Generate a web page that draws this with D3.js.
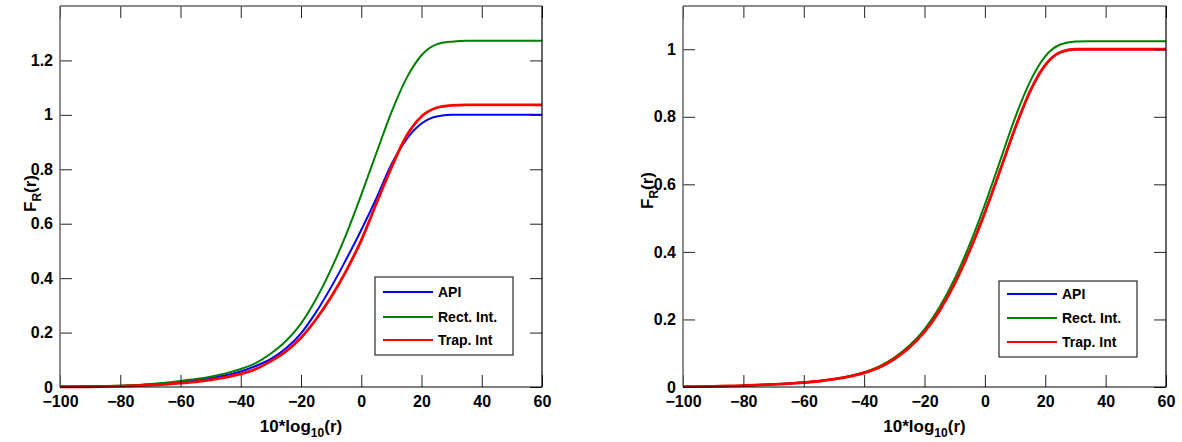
<!DOCTYPE html>
<html>
<head>
<meta charset="utf-8">
<script src="https://cdn.jsdelivr.net/npm/d3@7"></script>
<style>
  html, body { margin: 0; padding: 0; background: #fff; }
  svg { display: block; font-family: "Liberation Sans", Arial, sans-serif; }
  .tick text { font-size: 16px; font-weight: bold; fill: #000; }
</style>
</head>
<body>
<svg id="chart" width="1182" height="442"></svg>
<script>
// Sample grid of 10*log10(r), in dB
const xVals = [-100, -95, -90, -85, -80, -75, -70, -65, -60, -55, -50, -45, -40, -35,
               -30, -25, -20, -15, -10, -5, 0, 5, 10, 15, 20, 25, 30,
               35, 40, 45, 50, 55, 60];

// Left panel: estimated CDF F_R(r)
const leftApi  = [0.001, 0.001, 0.002, 0.003, 0.004, 0.006, 0.009, 0.013, 0.018, 0.024, 0.032, 0.043, 0.057, 0.077,
                  0.103, 0.142, 0.197, 0.275, 0.367, 0.469, 0.577, 0.693, 0.818, 0.910, 0.968, 0.994, 1.000,
                  1.000, 1.000, 1.000, 1.000, 1.000, 1.000];
const leftRect = [0.001, 0.001, 0.002, 0.003, 0.005, 0.007, 0.011, 0.016, 0.022, 0.029, 0.038, 0.050, 0.066, 0.088,
                  0.123, 0.169, 0.233, 0.323, 0.433, 0.561, 0.706, 0.859, 1.009, 1.134, 1.219, 1.259, 1.269,
                  1.272, 1.272, 1.272, 1.272, 1.272, 1.272];
const leftTrap = [0.001, 0.001, 0.001, 0.002, 0.003, 0.005, 0.007, 0.010, 0.014, 0.019, 0.026, 0.035, 0.048, 0.066,
                  0.095, 0.131, 0.181, 0.249, 0.331, 0.427, 0.539, 0.674, 0.806, 0.922, 0.994, 1.026, 1.035,
                  1.037, 1.037, 1.037, 1.037, 1.037, 1.037];

// Right panel: estimated CDF F_R(r)
const rightApi  = [0.001, 0.001, 0.002, 0.003, 0.004, 0.006, 0.008, 0.010, 0.013, 0.017, 0.023, 0.031, 0.042, 0.058,
                   0.083, 0.117, 0.164, 0.228, 0.308, 0.406, 0.518, 0.641, 0.766, 0.876, 0.953, 0.991, 1.000,
                   1.000, 1.000, 1.000, 1.000, 1.000, 1.000];
const rightRect = [0.001, 0.001, 0.002, 0.003, 0.004, 0.006, 0.008, 0.011, 0.014, 0.018, 0.024, 0.032, 0.044, 0.061,
                   0.087, 0.123, 0.171, 0.237, 0.321, 0.423, 0.540, 0.668, 0.797, 0.905, 0.979, 1.014, 1.023,
                   1.024, 1.024, 1.024, 1.024, 1.024, 1.024];
const rightTrap = [0.001, 0.001, 0.002, 0.003, 0.004, 0.006, 0.008, 0.010, 0.013, 0.017, 0.023, 0.031, 0.042, 0.058,
                   0.083, 0.117, 0.163, 0.226, 0.306, 0.404, 0.516, 0.640, 0.766, 0.876, 0.953, 0.991, 1.000,
                   1.000, 1.000, 1.000, 1.000, 1.000, 1.000];

const seriesNames  = ["API", "Rect. Int.", "Trap. Int"];
const seriesColors = ["#0000ff", "#008000", "#ff0000"];
const seriesWidths = [2, 2, 2.8];

const xTicks = [-100, -80, -60, -40, -20, 0, 20, 40, 60];
const leftYTicks  = [0, 0.2, 0.4, 0.6, 0.8, 1, 1.2];
const rightYTicks = [0, 0.2, 0.4, 0.6, 0.8, 1];

const svg = d3.select("#chart");

const panels = [
  { left: 60,  top: 6, width: 482, height: 381, yMax: 1.4,   yTicks: leftYTicks,
    series: [leftApi, leftRect, leftTrap], yLabelX: -24, yLabelShift: -3,
    legend: { x: 315, y: 271, w: 138, h: 78, rows: [15, 40, 63] } },
  { left: 683, top: 6, width: 483, height: 381, yMax: 1.128, yTicks: rightYTicks,
    series: [rightApi, rightRect, rightTrap], yLabelX: -30, yLabelShift: -6,
    legend: { x: 316, y: 275, w: 138, h: 76, rows: [13, 37, 61] } }
];

const fmt = d => d === 0 ? "0" : String(+d.toFixed(1));

panels.forEach(p => {
  const g = svg.append("g").attr("transform", `translate(${p.left},${p.top})`);
  const x = d3.scaleLinear().domain([-100, 60]).range([0, p.width]);
  const y = d3.scaleLinear().domain([0, p.yMax]).range([p.height, 0]);

  // Curves
  const line = d3.line()
    .x((d, i) => x(xVals[i]))
    .y(d => y(d))
    .curve(d3.curveMonotoneX);
  p.series.forEach((vals, i) => {
    g.append("path")
      .datum(vals)
      .attr("fill", "none")
      .attr("stroke", seriesColors[i])
      .attr("stroke-width", seriesWidths[i])
      .attr("d", line);
  });

  // Axes with inward ticks on all four sides
  const styleAxis = sel => {
    sel.select(".domain").remove();
    sel.selectAll(".tick line").attr("stroke", "#222");
  };
  g.append("g").attr("transform", `translate(0,${p.height})`)
    .call(d3.axisBottom(x).tickValues(xTicks).tickSize(-12).tickPadding(9).tickFormat(d3.format("d")))
    .call(styleAxis);
  g.append("g")
    .call(d3.axisTop(x).tickValues(xTicks).tickSize(-12).tickFormat(""))
    .call(styleAxis);
  g.append("g")
    .call(d3.axisLeft(y).tickValues(p.yTicks).tickSize(-12).tickPadding(7).tickFormat(fmt))
    .call(styleAxis);
  g.append("g").attr("transform", `translate(${p.width},0)`)
    .call(d3.axisRight(y).tickValues(p.yTicks).tickSize(-12).tickFormat(""))
    .call(styleAxis);
  g.selectAll(".tick text").attr("font-family", null).attr("font-size", null);

  // Plot frame
  g.append("line").attr("x1", 0).attr("x2", p.width).attr("y1", 0).attr("y2", 0)
    .attr("stroke", "#666").attr("stroke-width", 1.5);
  g.append("line").attr("x1", 0).attr("x2", 0).attr("y1", 0).attr("y2", p.height)
    .attr("stroke", "#666").attr("stroke-width", 1.5);
  g.append("line").attr("x1", 0).attr("x2", p.width).attr("y1", p.height).attr("y2", p.height)
    .attr("stroke", "#000").attr("stroke-width", 1.2);
  g.append("line").attr("x1", p.width).attr("x2", p.width).attr("y1", 0).attr("y2", p.height)
    .attr("stroke", "#000").attr("stroke-width", 1.2);

  // X label: 10*log10(r)
  const xl = g.append("text")
    .attr("x", p.width / 2).attr("y", p.height + 45)
    .attr("text-anchor", "middle")
    .attr("font-size", 17).attr("font-weight", "bold");
  xl.append("tspan").text("10*log");
  xl.append("tspan").attr("font-size", 12).attr("dy", 5).text("10");
  xl.append("tspan").attr("dy", -5).text("(r)");

  // Y label: F_R(r)
  const yl = g.append("text")
    .attr("transform", `translate(${p.yLabelX},${p.height / 2 + p.yLabelShift}) rotate(-90)`)
    .attr("text-anchor", "middle")
    .attr("font-size", 17).attr("font-weight", "bold");
  yl.append("tspan").text("F");
  yl.append("tspan").attr("font-size", 12).attr("dy", 5).text("R");
  yl.append("tspan").attr("dy", -5).text("(r)");

  // Legend
  const lg = g.append("g").attr("transform", `translate(${p.legend.x},${p.legend.y})`);
  lg.append("rect").attr("width", p.legend.w).attr("height", p.legend.h)
    .attr("fill", "#fff").attr("stroke", "#000").attr("stroke-width", 1);
  seriesNames.forEach((name, i) => {
    const ry = p.legend.rows[i];
    lg.append("line").attr("x1", 8).attr("x2", 58).attr("y1", ry).attr("y2", ry)
      .attr("stroke", seriesColors[i]).attr("stroke-width", 2);
    lg.append("text").attr("x", 63).attr("y", ry + 5)
      .attr("font-size", 14).attr("font-weight", "bold").text(name);
  });
});
</script>
</body>
</html>
